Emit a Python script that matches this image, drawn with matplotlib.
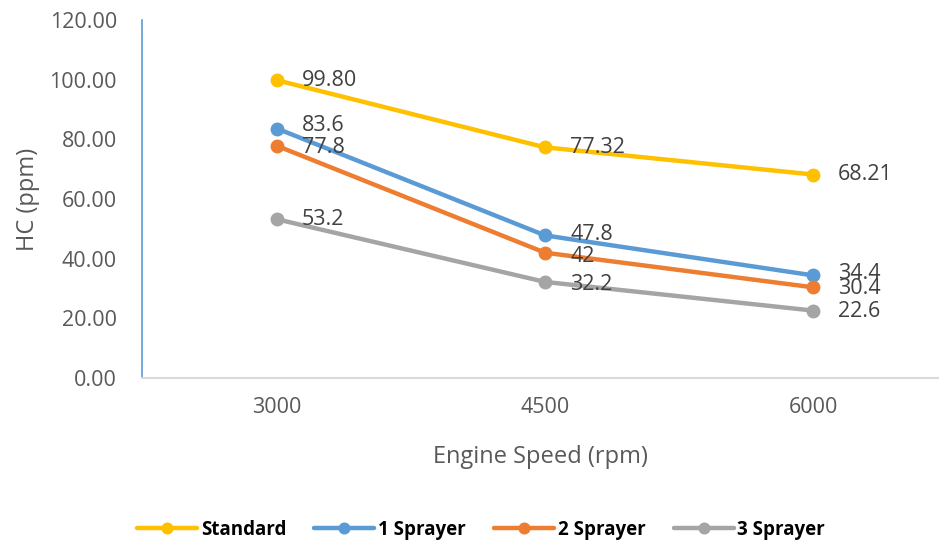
import matplotlib.pyplot as plt

# data
speeds = ["3000", "4500", "6000"]
series_names = ["Standard", "1 Sprayer", "2 Sprayer", "3 Sprayer"]
standard = [99.80, 77.32, 68.21]
sprayer_1 = [83.6, 47.8, 34.4]
sprayer_2 = [77.8, 42, 30.4]
sprayer_3 = [53.2, 32.2, 22.6]
label_text = [
    ["99.80", "77.32", "68.21"],
    ["83.6", "47.8", "34.4"],
    ["77.8", "42", "30.4"],
    ["53.2", "32.2", "22.6"],
]
y_ticks = [0, 20, 40, 60, 80, 100, 120]

colors = ["#FFC000", "#5B9BD5", "#ED7D31", "#A5A5A5"]
# small vertical nudges (points) so overlapping labels sit like the original
label_dy = [
    [0, 0, 0],
    [2, 1, 1],
    [-1, -2.5, -1],
    [0, -2, -1],
]

plt.rcParams["font.family"] = ["Open Sans", "DejaVu Sans"]

fig = plt.figure(figsize=(9.39, 5.44), dpi=100)
ax = fig.add_axes([142 / 939, 166 / 544, 797 / 939, 358 / 544])

x = list(range(len(speeds)))
for i, (name, vals) in enumerate(zip(series_names, [standard, sprayer_1, sprayer_2, sprayer_3])):
    ax.plot(x, vals, color=colors[i], lw=3.2, marker="o", ms=9, label=name,
            solid_capstyle="round", zorder=3)
    for j, v in enumerate(vals):
        ax.annotate(label_text[i][j], (x[j], v), xytext=(18, label_dy[i][j]),
                    textcoords="offset points", va="center", ha="left",
                    fontsize=15.5, color="#404040", zorder=4)

ax.set_xlim(-0.504, 2.47)
ax.set_ylim(0, 120)
ax.set_xticks(x)
ax.set_xticklabels(speeds)
ax.set_yticks(y_ticks)
ax.set_yticklabels([f"{t:.2f}" for t in y_ticks])
ax.tick_params(length=0, labelsize=15.5, labelcolor="#595959")
ax.tick_params(axis="y", pad=18)
ax.tick_params(axis="x", pad=14)

for s in ["top", "right"]:
    ax.spines[s].set_visible(False)
ax.spines["left"].set_color("#5B9BD5")
ax.spines["left"].set_linewidth(1.2)
ax.spines["bottom"].set_color("#D9D9D9")
ax.spines["bottom"].set_linewidth(1.5)

ax.set_xlabel("Engine Speed (rpm)", fontsize=17, color="#595959", labelpad=19)
ax.set_ylabel("HC (ppm)", fontsize=17, color="#595959", labelpad=7)

fig.legend(loc="center", bbox_to_anchor=(481 / 939, 1 - 530 / 544), ncol=4,
           frameon=False, prop={"weight": "bold", "size": 13.5},
           handlelength=3.2, columnspacing=1.5, handletextpad=0.2, markerscale=0.85)

fig.savefig("out.png", dpi=100)
